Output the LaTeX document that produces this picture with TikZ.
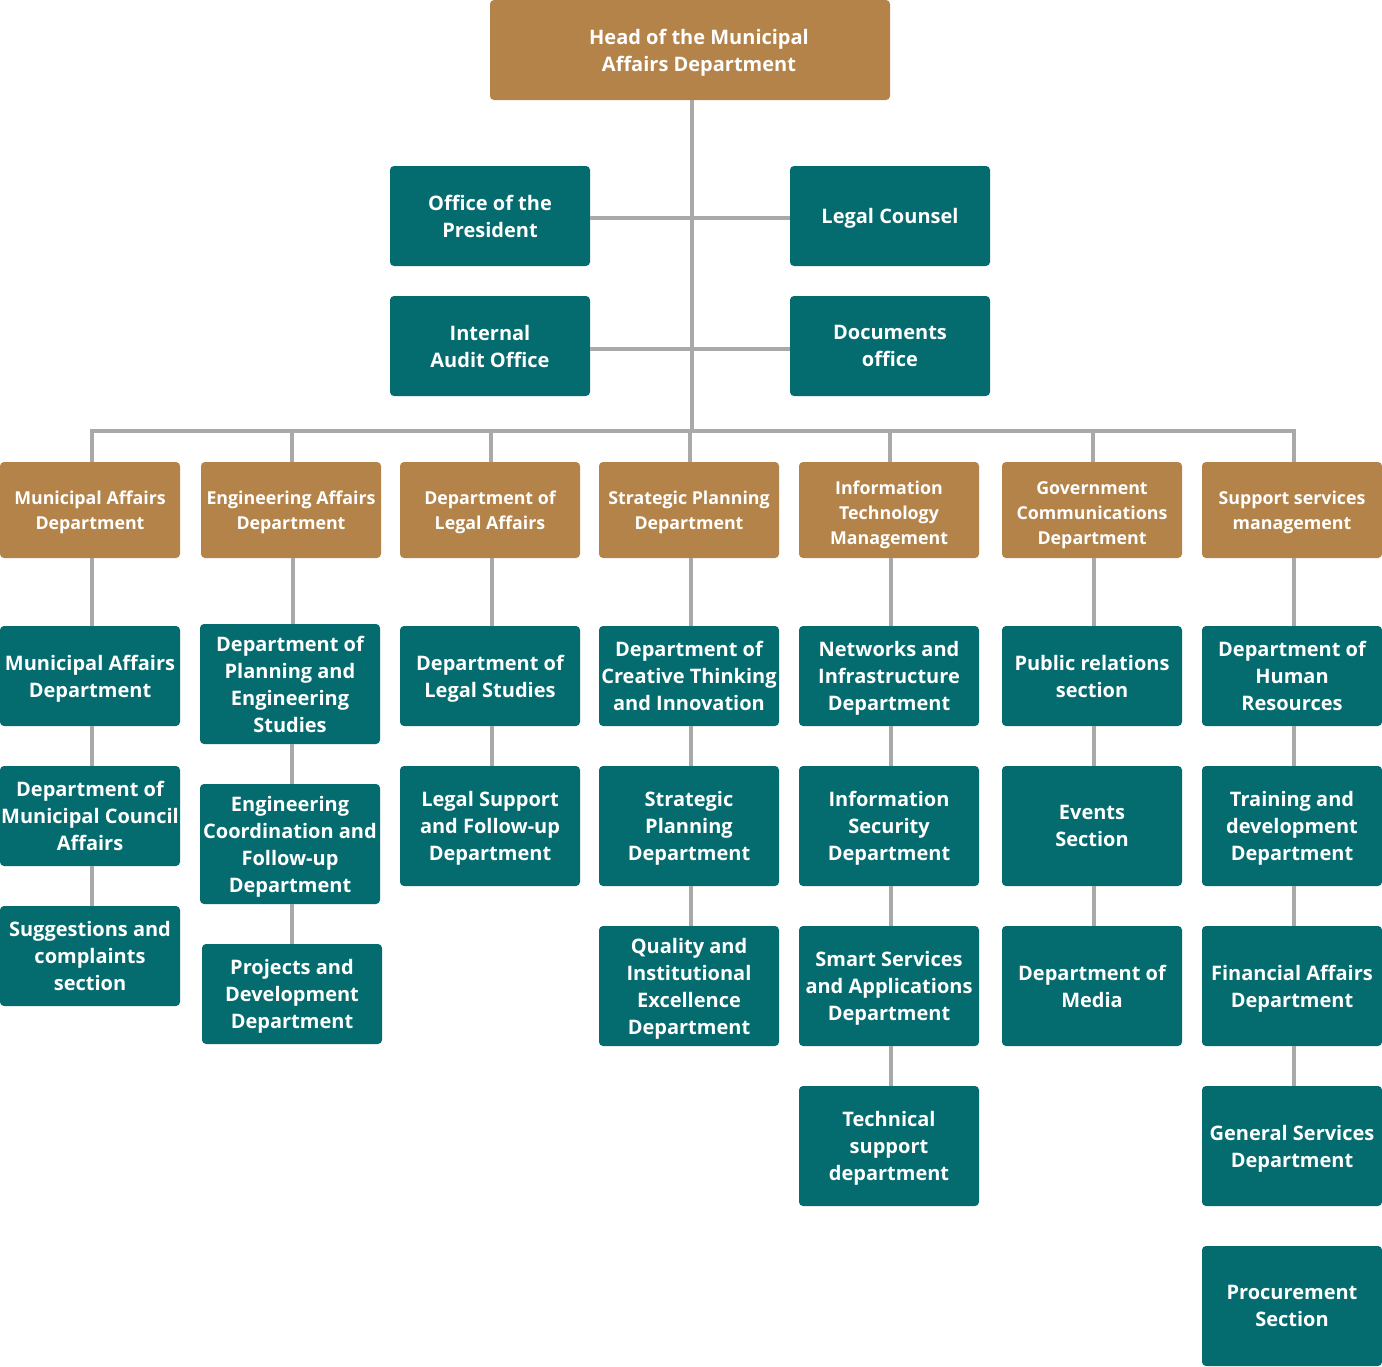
\documentclass[tikz,border=0pt]{standalone}
\usepackage{fontspec}
\setmainfont{Open Sans}
\definecolor{gold}{HTML}{B38349}
\definecolor{tealbox}{HTML}{046B6E}
\definecolor{linegray}{HTML}{A9A9A9}
\tikzset{
  box/.style={rounded corners=4pt, inner sep=0pt, align=center, text=white, text depth=0pt, font=\bfseries},
  tealn/.style={box, fill=tealbox, minimum width=180pt, font=\fontsize{20}{27}\selectfont\bfseries},
  goldn/.style={box, fill=gold, minimum width=180pt, minimum height=96pt, font=\fontsize{17.8}{25}\selectfont\bfseries},
  conn/.style={draw=linegray, line width=4pt},
}
\newcommand\tallfirst{\rule{0pt}{19pt}}
\begin{document}
\begin{tikzpicture}[x=1pt,y=-1pt]
\useasboundingbox (0,0) rectangle (1382,1366);
% head
\node[box, fill=gold, minimum width=400pt, minimum height=100pt] (head) at (690,50) {};
\node[text=white, align=center, inner sep=0pt, text depth=0pt, font=\fontsize{20}{27}\selectfont\bfseries] (headtxt) at (699,50) {Head of the Municipal\\ Affairs Department};
% side offices
\node[tealn, minimum height=100pt, minimum width=200pt] (op) at (490,216) {Office of the\\ President};
\node[tealn, minimum height=100pt, minimum width=200pt] (lc) at (890,216) {Legal Counsel};
\node[tealn, minimum height=100pt, minimum width=200pt] (ia) at (490,346) {Internal\\ Audit Office};
\node[tealn, minimum height=100pt, minimum width=200pt] (doc) at (890,346) {Documents\\ office};
% bus
\coordinate (busL) at (92,431);
% gold departments
\node[goldn] (g1) at (90,510) {Municipal Affairs\\ Department};
\node[goldn] (g2) at (291,510) {Engineering Affairs\\ Department};
\node[goldn] (g3) at (490,510) {Department of\\ Legal Affairs};
\node[goldn] (g4) at (689,510) {Strategic Planning\\ Department};
\node[goldn] (g5) at (889,510) {\tallfirst Information\\ Technology\\ Management};
\node[goldn] (g6) at (1092,510) {\tallfirst Government\\ Communications\\ Department};
\node[goldn] (g7) at (1292,510) {Support services\\ management};
% column 1
\node[tealn, minimum height=100pt] (a1) at (90,676) {Municipal Affairs\\ Department};
\node[tealn, minimum height=100pt] (a2) at (90,816) {Department of\\ Municipal Council\\ Affairs};
\node[tealn, minimum height=100pt] (a3) at (90,956) {Suggestions and\\ complaints\\ section};
% column 2
\node[tealn, minimum height=120pt] (b1) at (290,684) {Department of\\ Planning and\\ Engineering\\ Studies};
\node[tealn, minimum height=120pt] (b2) at (290,844) {Engineering\\ Coordination and\\ Follow-up\\ Department};
\node[tealn, minimum height=100pt] (b3) at (292,994) {Projects and\\ Development\\ Department};
% column 3
\node[tealn, minimum height=100pt] (c1) at (490,676) {Department of\\ Legal Studies};
\node[tealn, minimum height=120pt] (c2) at (490,826) {Legal Support\\ and Follow-up\\ Department};
% column 4
\node[tealn, minimum height=100pt] (d1) at (689,676) {Department of\\ Creative Thinking\\ and Innovation};
\node[tealn, minimum height=120pt] (d2) at (689,826) {Strategic\\ Planning\\ Department};
\node[tealn, minimum height=120pt] (d3) at (689,986) {Quality and\\ Institutional\\ Excellence\\ Department};
% column 5
\node[tealn, minimum height=100pt] (e1) at (889,676) {Networks and\\ Infrastructure\\ Department};
\node[tealn, minimum height=120pt] (e2) at (889,826) {Information\\ Security\\ Department};
\node[tealn, minimum height=120pt] (e3) at (889,986) {Smart Services\\ and Applications\\ Department};
\node[tealn, minimum height=120pt] (e4) at (889,1146) {Technical\\ support\\ department};
% column 6
\node[tealn, minimum height=100pt] (f1) at (1092,676) {Public relations\\ section};
\node[tealn, minimum height=120pt] (f2) at (1092,826) {Events\\ Section};
\node[tealn, minimum height=120pt] (f3) at (1092,986) {Department of\\ Media};
% column 7
\node[tealn, minimum height=100pt] (h1) at (1292,676) {Department of\\ Human\\ Resources};
\node[tealn, minimum height=120pt] (h2) at (1292,826) {Training and\\ development\\ Department};
\node[tealn, minimum height=120pt] (h3) at (1292,986) {Financial Affairs\\ Department};
\node[tealn, minimum height=120pt] (h4) at (1292,1146) {General Services\\ Department};
\node[tealn, minimum height=120pt] (h5) at (1292,1306) {Procurement\\ Section};
% connectors
\draw[conn] ([xshift=2pt]head.south) -- ([xshift=2pt]head.south |- busL);
\draw[conn] ([yshift=-2pt]op.east) -- ([yshift=-2pt]lc.west);
\draw[conn] ([yshift=-3pt]ia.east) -- ([yshift=-3pt]doc.west);
\draw[conn] ([xshift=2pt]g1.north) -- ([xshift=2pt]g1.north |- busL) -- ([xshift=2pt]g7.north |- busL) -- ([xshift=2pt]g7.north);
\foreach \g in {g2,g3,g4,g5,g6}
  \draw[conn] ([xshift=1pt]\g.north) -- ([xshift=1pt]\g.north |- busL);
\foreach \p/\c in {g1/a1,a1/a2,a2/a3,g2/b1,b1/b2,b2/b3,g3/c1,c1/c2,g4/d1,d1/d2,d2/d3,g5/e1,e1/e2,e2/e3,e3/e4,g6/f1,f1/f2,f2/f3,g7/h1,h1/h2,h2/h3,h3/h4}
  \draw[conn] ([xshift=2pt]\p.south) -- ([xshift=2pt]\p.south |- \c.north);
\end{tikzpicture}
\end{document}
